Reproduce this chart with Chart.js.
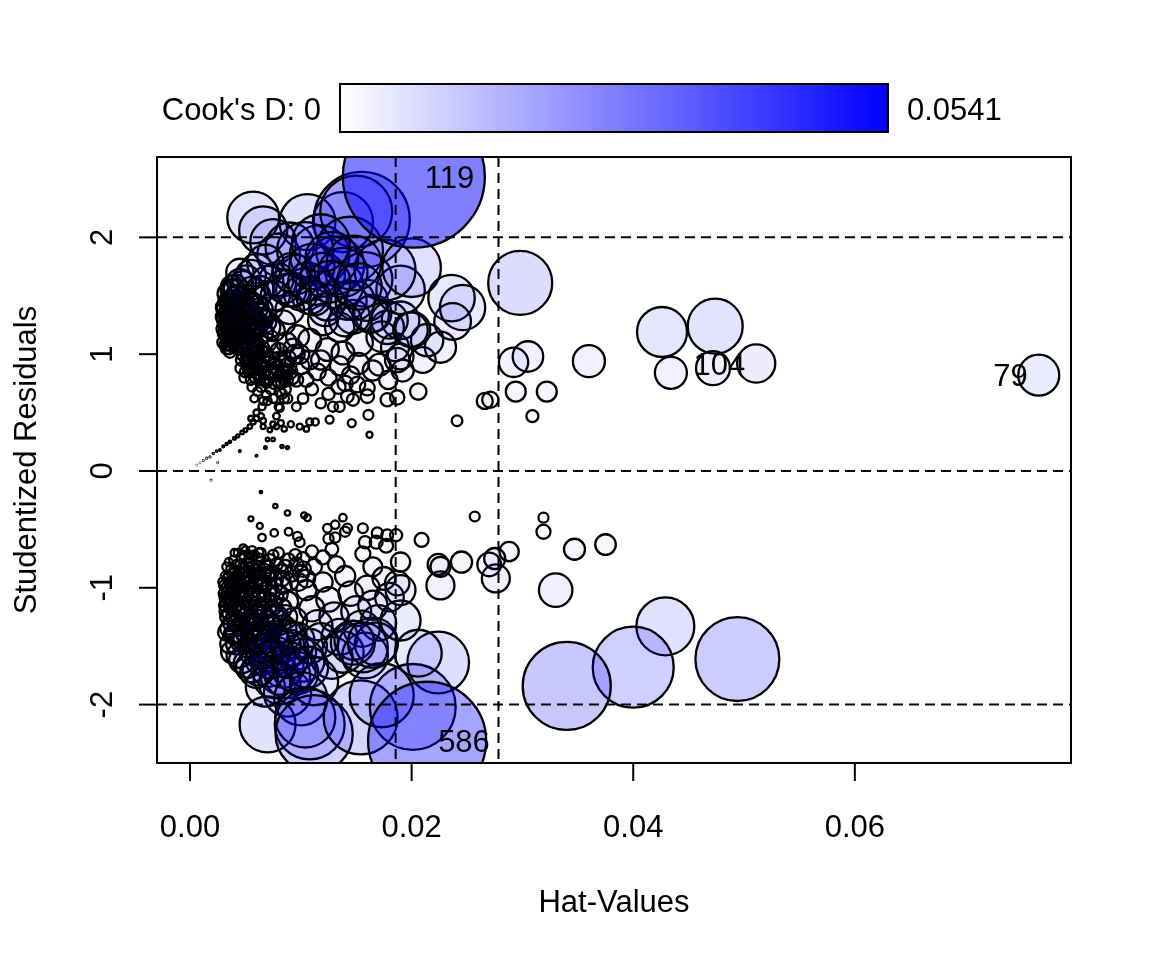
<!DOCTYPE html>
<html>
<head>
<meta charset="utf-8">
<script src="https://cdn.jsdelivr.net/npm/chart.js@4/dist/chart.umd.min.js"></script>
<style>
  html, body { margin: 0; padding: 0; background: #fff; }
  #wrap { width: 1152px; height: 960px; }
</style>
</head>
<body>
<div id="wrap"><canvas id="influence" width="1152" height="960"></canvas></div>
<script>
// --- data: [hat-value, studentized residual, Cook's D] ---
const tailPoints = [
  [0.0003, 0.03, 0.0000001], [0.0006, 0.05, 0.0000002], [0.0009, 0.07, 0.0000004], [0.0012, 0.09, 0.0000011],
  [0.0015, 0.11, 0.0000017], [0.0018, 0.12, 0.0000022], [0.0021, 0.15, 0.0000042], [0.0024, 0.17, 0.0000055],
  [0.0027, 0.18, 0.0000068], [0.0030, 0.21, 0.000010], [0.0033, 0.23, 0.000013], [0.0036, 0.25, 0.000016],
  [0.0040, 0.28, 0.000021], [0.0043, 0.30, 0.000026], [0.0047, 0.33, 0.000034], [0.0050, 0.35, 0.000040],
  [0.0054, 0.38, 0.000054], [0.0057, 0.42, 0.000070], [0.0060, 0.45, 0.000084], [0.0064, 0.47, 0.000097],
  [0.0066, 0.43, 0.000086], [0.0070, 0.27, 0.000036], [0.0083, 0.21, 0.000028], [0.0068, 0.20, 0.000020],
  [0.0060, 0.13, 0.000009], [0.0025, 0.07, 0.000001], [0.0045, 0.17, 0.000010], [0.0078, 0.38, 0.000075],
  [0.0085, 0.36, 0.000075], [0.0019, -0.08, 0.000001], [0.0064, -0.18, 0.000016]
];

const upperSmall = [
  [0.0055, 0.45, 0.000077], [0.0060, 0.50, 0.00010], [0.0065, 0.55, 0.00014], [0.0070, 0.60, 0.00018],
  [0.0075, 0.40, 0.000083], [0.0080, 0.55, 0.00017], [0.0085, 0.62, 0.00024], [0.0072, 0.35, 0.000058],
  [0.0078, 0.47, 0.00012], [0.0066, 0.38, 0.000066], [0.0082, 0.41, 0.000094], [0.0091, 0.40, 0.00010],
  [0.0099, 0.38, 0.00010], [0.0108, 0.42, 0.00013], [0.0113, 0.42, 0.00014], [0.0126, 0.44, 0.00017],
  [0.0146, 0.41, 0.00017], [0.0161, 0.48, 0.00026], [0.0162, 0.31, 0.00010], [0.0241, 0.43, 0.00031],
  [0.0075, 0.27, 0.000034], [0.0088, 0.20, 0.000026], [0.0105, 0.36, 0.00008], [0.0129, 0.55, 0.00027],
  [0.0135, 0.55, 0.00028], [0.0147, 0.61, 0.00039], [0.0160, 0.64, 0.00049], [0.0178, 0.61, 0.00047],
  [0.0187, 0.63, 0.00055], [0.0206, 0.68, 0.00072], [0.0266, 0.60, 0.00069], [0.0271, 0.61, 0.00071],
  [0.0102, 0.62, 0.00029], [0.0110, 0.70, 0.00041], [0.0118, 0.58, 0.00028], [0.0125, 0.66, 0.00040],
  [0.0134, 0.72, 0.00053], [0.0142, 0.64, 0.00043], [0.0096, 0.55, 0.00020], [0.0088, 0.62, 0.00024],
  [0.0179, 0.78, 0.00092], [0.0160, 0.71, 0.00059], [0.0151, 0.74, 0.00066]
];

const upperDense = [
  [0.0030, 1.10, 0.00038], [0.0030, 1.32, 0.0006], [0.0031, 1.40, 0.00078], [0.0032, 1.08, 0.00038],
  [0.0032, 1.20, 0.00051], [0.0033, 1.28, 0.00064], [0.0034, 1.12, 0.00045], [0.0034, 1.36, 0.00078],
  [0.0035, 1.05, 0.00039], [0.0035, 1.25, 0.00063], [0.0036, 1.16, 0.00052], [0.0036, 1.38, 0.00088],
  [0.0037, 1.08, 0.00044], [0.0037, 1.30, 0.00074], [0.0038, 1.20, 0.00061], [0.0038, 1.42, 0.001],
  [0.0039, 1.32, 0.00082], [0.0040, 1.14, 0.00056], [0.0040, 1.22, 0.00067], [0.0041, 1.35, 0.00092],
  [0.0042, 1.06, 0.00048], [0.0042, 1.28, 0.0008], [0.0043, 1.20, 0.00069], [0.0044, 1.38, 0.0011],
  [0.0045, 1.15, 0.00064], [0.0045, 1.30, 0.0009], [0.0046, 1.10, 0.00058], [0.0047, 1.25, 0.00085],
  [0.0048, 1.42, 0.0013], [0.0049, 1.18, 0.00076], [0.0050, 1.36, 0.0011], [0.0052, 1.10, 0.00065],
  [0.0053, 1.28, 0.001], [0.0055, 1.35, 0.0012], [0.0056, 1.18, 0.00087], [0.0058, 1.10, 0.00073],
  [0.0060, 1.25, 0.0011], [0.0062, 1.35, 0.0014], [0.0064, 1.05, 0.00072],
  [0.0046, 0.88, 0.00033], [0.0048, 1.00, 0.00048], [0.0051, 0.95, 0.00044], [0.0054, 0.85, 0.00035],
  [0.0056, 1.02, 0.00059], [0.0059, 0.80, 0.00032], [0.0061, 0.97, 0.00056], [0.0064, 0.88, 0.00046],
  [0.0067, 0.78, 0.00034], [0.0070, 0.95, 0.00061], [0.0073, 0.83, 0.00045], [0.0077, 0.90, 0.00058],
  [0.0080, 0.76, 0.00037], [0.0084, 0.84, 0.00052], [0.0087, 0.78, 0.00045]
];

const upperCore = [
  [0.0030, 1.22, 0.0005], [0.0031, 1.30, 0.00062], [0.0032, 1.40, 0.0008], [0.0033, 1.15, 0.00047],
  [0.0034, 1.26, 0.00063], [0.0035, 1.35, 0.00079], [0.0036, 1.45, 0.00099], [0.0037, 1.19, 0.00058],
  [0.0038, 1.29, 0.00074], [0.0039, 1.10, 0.00049], [0.0040, 1.38, 0.00096], [0.0041, 1.24, 0.00072],
  [0.0042, 1.50, 0.0013], [0.0043, 1.32, 0.0009], [0.0044, 1.15, 0.00062], [0.0045, 1.42, 0.0012],
  [0.0046, 1.22, 0.00077], [0.0047, 1.05, 0.00053], [0.0048, 1.35, 0.0011], [0.0049, 1.28, 0.00093],
  [0.0050, 1.12, 0.00066], [0.0051, 1.45, 0.0014], [0.0052, 1.20, 0.00083], [0.0053, 0.98, 0.0005],
  [0.0054, 1.33, 0.0012], [0.0055, 1.08, 0.00066], [0.0056, 1.55, 0.0019], [0.0057, 1.25, 0.001],
  [0.0058, 0.95, 0.0005], [0.0060, 1.40, 0.0015], [0.0062, 1.15, 0.00088], [0.0063, 1.02, 0.00066],
  [0.0065, 1.30, 0.0013], [0.0038, 1.58, 0.0013], [0.0045, 1.62, 0.0018],
  [0.0031, 1.18, 0.00047], [0.0032, 1.25, 0.00058], [0.0033, 1.35, 0.00074], [0.0034, 1.45, 0.00094],
  [0.0035, 1.20, 0.00056], [0.0036, 1.32, 0.00076], [0.0037, 1.40, 0.00093], [0.0038, 1.12, 0.0005],
  [0.0039, 1.24, 0.00069], [0.0040, 1.30, 0.0008], [0.0041, 1.45, 0.0011], [0.0042, 1.18, 0.00064],
  [0.0043, 1.40, 0.0011], [0.0044, 1.27, 0.00083], [0.0045, 1.08, 0.00054], [0.0046, 1.36, 0.0011],
  [0.0047, 1.48, 0.0014], [0.0048, 1.20, 0.00077], [0.0049, 1.10, 0.00061], [0.0050, 1.30, 0.001],
  [0.0051, 1.25, 0.00092], [0.0052, 1.38, 0.0012], [0.0053, 1.15, 0.00075], [0.0054, 1.05, 0.0006],
  [0.0055, 1.22, 0.00092], [0.0056, 1.42, 0.0015], [0.0057, 1.12, 0.00075], [0.0058, 1.30, 0.0012],
  [0.0059, 1.20, 0.00094], [0.0060, 1.08, 0.00072], [0.0061, 1.50, 0.0018], [0.0062, 1.26, 0.0011],
  [0.0064, 1.38, 0.0015], [0.0066, 1.18, 0.001], [0.0068, 1.28, 0.0013], [0.0070, 1.10, 0.00088],
  [0.0072, 1.40, 0.0018], [0.0074, 1.05, 0.00083], [0.0076, 1.20, 0.0012], [0.0034, 1.52, 0.0011],
  [0.0037, 1.55, 0.0012], [0.0041, 1.58, 0.0015], [0.0033, 1.05, 0.00037], [0.0036, 1.02, 0.00038],
  [0.0050, 0.85, 0.00033], [0.0052, 0.92, 0.00042], [0.0055, 0.78, 0.00028], [0.0057, 0.88, 0.0004],
  [0.0060, 0.95, 0.00052], [0.0062, 0.82, 0.00037], [0.0064, 0.72, 0.00026], [0.0066, 0.90, 0.0005],
  [0.0068, 1.00, 0.00068], [0.0070, 0.80, 0.00039], [0.0072, 0.86, 0.00048], [0.0074, 0.95, 0.00064],
  [0.0076, 0.75, 0.00034], [0.0078, 0.88, 0.00055], [0.0080, 1.02, 0.00084], [0.0082, 0.82, 0.00048],
  [0.0084, 0.92, 0.00067], [0.0086, 0.70, 0.00032], [0.0088, 0.96, 0.00079], [0.0090, 0.85, 0.00059],
  [0.0093, 1.05, 0.001], [0.0096, 0.78, 0.00049], [0.0100, 0.90, 0.00075], [0.0047, 0.95, 0.00041],
  [0.0058, 1.05, 0.00065], [0.0069, 0.65, 0.00021], [0.0075, 0.62, 0.00021], [0.0081, 0.68, 0.00028],
  [0.0087, 1.10, 0.0011], [0.0095, 1.00, 0.00095],
  [0.0049, 0.80, 0.00027], [0.0053, 0.86, 0.00036], [0.0056, 0.72, 0.00023], [0.0059, 0.90, 0.00044],
  [0.0063, 0.78, 0.00032], [0.0065, 0.95, 0.00057], [0.0067, 0.84, 0.00042], [0.0071, 0.92, 0.00057],
  [0.0073, 0.70, 0.00027], [0.0077, 0.82, 0.00045], [0.0079, 0.95, 0.00069], [0.0083, 0.76, 0.00039],
  [0.0085, 0.86, 0.00057], [0.0089, 0.90, 0.00067], [0.0092, 0.80, 0.00051], [0.0061, 0.68, 0.00021],
  [0.0058, 0.62, 0.00016], [0.0066, 0.60, 0.00017]
];

const upperMid = [
  [0.0105, 0.78, 0.00054], [0.0115, 0.85, 0.00075], [0.0125, 0.80, 0.00069], [0.0135, 0.90, 0.0010],
  [0.0145, 0.82, 0.00084], [0.0152, 0.92, 0.0012], [0.0118, 0.95, 0.0010], [0.0140, 0.75, 0.00063],
  [0.0165, 0.86, 0.0011], [0.0171, 0.91, 0.0013], [0.0187, 0.95, 0.0016], [0.0190, 0.98, 0.0018],
  [0.0210, 0.95, 0.0018], [0.0226, 1.06, 0.0026], [0.0214, 1.12, 0.0028], [0.0201, 1.21, 0.0033],
  [0.0190, 1.29, 0.0038], [0.0178, 1.23, 0.0030], [0.0192, 0.86, 0.0013], [0.0185, 1.06, 0.0021],
  [0.0173, 1.15, 0.0025], [0.0153, 1.10, 0.0019], [0.0138, 1.01, 0.0014], [0.0124, 1.04, 0.0014],
  [0.0108, 0.95, 0.00094], [0.0099, 1.00, 0.00099], [0.0097, 1.15, 0.0014], [0.0108, 1.12, 0.0014],
  [0.0135, 1.23, 0.0023], [0.0120, 1.29, 0.0024], [0.0147, 1.32, 0.0031], [0.0165, 1.35, 0.0037],
  [0.0160, 1.46, 0.0045], [0.0142, 1.46, 0.0040], [0.0124, 1.44, 0.0034], [0.0108, 1.49, 0.0032],
  [0.0090, 1.38, 0.0022], [0.0084, 1.27, 0.0016], [0.0072, 1.23, 0.0012], [0.0093, 1.55, 0.0031],
  [0.0078, 1.64, 0.0031], [0.0051, 1.64, 0.0021], [0.0042, 1.49, 0.0012], [0.0039, 1.37, 0.00092],
  [0.0036, 1.26, 0.00066], [0.0039, 1.15, 0.00055], [0.0045, 1.06, 0.00051], [0.0054, 0.95, 0.00047],
  [0.0061, 0.84, 0.00039], [0.0069, 0.76, 0.00032], [0.0083, 0.66, 0.00026], [0.0081, 0.54, 0.00017],
  [0.0236, 1.48, 0.0058], [0.0246, 1.40, 0.0055], [0.0237, 1.28, 0.0036]
];

const upperLarge = [
  [0.0057, 2.17, 0.0072], [0.0066, 2.06, 0.0062], [0.0075, 1.96, 0.0056], [0.0106, 2.13, 0.0084],
  [0.0138, 2.13, 0.0097], [0.0155, 2.15, 0.0247], [0.0150, 2.22, 0.0139], [0.0080, 1.85, 0.0049],
  [0.0090, 1.92, 0.0063], [0.0117, 1.85, 0.0095], [0.0131, 1.76, 0.0090], [0.0144, 1.89, 0.0120],
  [0.0104, 1.89, 0.0085], [0.0135, 1.59, 0.0060], [0.0158, 1.64, 0.0080], [0.0113, 1.59, 0.0041],
  [0.0095, 1.68, 0.0042], [0.0090, 1.55, 0.0030], [0.0149, 1.46, 0.0041], [0.0122, 1.38, 0.0029],
  [0.0140, 1.29, 0.0028], [0.0163, 1.34, 0.0036], [0.0180, 1.29, 0.0036], [0.0190, 1.55, 0.0063],
  [0.0199, 1.21, 0.0032], [0.0176, 1.72, 0.0100], [0.0200, 1.74, 0.0092], [0.0040, 1.55, 0.0013],
  [0.0048, 1.60, 0.0018], [0.0055, 1.68, 0.0024], [0.0063, 1.55, 0.0021], [0.0070, 1.62, 0.0027],
  [0.0077, 1.50, 0.0023], [0.0085, 1.58, 0.0030], [0.0092, 1.70, 0.0041], [0.0100, 1.52, 0.0031],
  [0.0106, 1.62, 0.0040], [0.0112, 1.48, 0.0032], [0.0060, 1.72, 0.0028], [0.0045, 1.70, 0.0020],
  [0.0068, 1.78, 0.0036], [0.0110, 1.75, 0.0055], [0.0120, 1.68, 0.0052], [0.0128, 1.82, 0.0075],
  [0.0138, 1.70, 0.0065], [0.0148, 1.78, 0.0080], [0.0118, 1.95, 0.0090], [0.0126, 1.62, 0.0047],
  [0.0152, 1.58, 0.0058]
];

const rightUpper = [
  [0.0298, 1.61, 0.0110], [0.0426, 1.19, 0.0067], [0.0474, 1.24, 0.0081], [0.0434, 0.84, 0.00275],
  [0.0472, 0.88, 0.0031], [0.0360, 0.94, 0.00275], [0.0305, 0.98, 0.0025], [0.0292, 0.93, 0.0023],
  [0.0294, 0.68, 0.00107], [0.0322, 0.68, 0.00107], [0.0309, 0.47, 0.00039]
];

const lowerSmall = [
  [0.0077, -0.30, 0.000046], [0.0088, -0.36, 0.000074], [0.0055, -0.41, 0.000063], [0.0063, -0.47, 0.000097],
  [0.0065, -0.57, 0.00015], [0.0103, -0.38, 0.00010], [0.0106, -0.40, 0.00012], [0.0138, -0.40, 0.00015],
  [0.0131, -0.46, 0.00019], [0.0142, -0.49, 0.00023], [0.0156, -0.49, 0.00026], [0.0124, -0.49, 0.00020],
  [0.0089, -0.52, 0.00016], [0.0097, -0.56, 0.00021], [0.0131, -0.57, 0.00028], [0.0169, -0.53, 0.00032],
  [0.0178, -0.55, 0.00037], [0.0186, -0.55, 0.00039], [0.0168, -0.61, 0.00045], [0.0209, -0.59, 0.00052],
  [0.0257, -0.39, 0.00026], [0.0128, -0.67, 0.00044], [0.0110, -0.69, 0.00040], [0.0156, -0.71, 0.00060],
  [0.0190, -0.78, 0.00099], [0.0224, -0.80, 0.0012], [0.0226, -0.98, 0.0021], [0.0165, -0.82, 0.00096],
  [0.0187, -0.96, 0.0016], [0.0120, -0.74, 0.00052], [0.0245, -0.78, 0.0012], [0.0076, -0.53, 0.00015],
  [0.0099, -0.61, 0.00026], [0.0125, -0.58, 0.00028], [0.0140, -0.52, 0.00027], [0.0158, -0.61, 0.00041],
  [0.0177, -0.64, 0.00052]
];

const lowerDense = [
  [0.0032, -0.90, 0.00024], [0.0033, -0.82, 0.0002], [0.0034, -1.08, 0.00041], [0.0035, -0.78, 0.00018],
  [0.0036, -0.95, 0.00031], [0.0037, -0.84, 0.00024], [0.0038, -1.10, 0.00048], [0.0039, -0.76, 0.00018],
  [0.0040, -0.92, 0.00032], [0.0041, -1.02, 0.00043], [0.0042, -0.80, 0.00023], [0.0043, -0.70, 0.00016],
  [0.0044, -0.86, 0.00029], [0.0045, -0.98, 0.00043], [0.0046, -0.74, 0.0002], [0.0047, -1.05, 0.00053],
  [0.0048, -0.82, 0.00028], [0.0049, -0.95, 0.00043], [0.0050, -0.68, 0.00017], [0.0051, -0.86, 0.00034],
  [0.0052, -1.00, 0.00052], [0.0053, -0.72, 0.00021], [0.0054, -0.90, 0.00041], [0.0055, -0.78, 0.00028],
  [0.0056, -1.05, 0.00063], [0.0057, -0.88, 0.00041], [0.0058, -0.72, 0.00023], [0.0060, -0.92, 0.00048],
  [0.0062, -0.82, 0.00037], [0.0064, -0.70, 0.00024], [0.0066, -0.95, 0.00057], [0.0068, -0.80, 0.00037],
  [0.0070, -0.90, 0.00053], [0.0072, -0.76, 0.00034], [0.0074, -0.86, 0.00048], [0.0076, -0.98, 0.00071],
  [0.0078, -0.80, 0.00043], [0.0080, -0.70, 0.0003], [0.0083, -0.92, 0.00066], [0.0086, -0.82, 0.00051],
  [0.0089, -0.76, 0.00042], [0.0092, -0.88, 0.00065], [0.0095, -0.72, 0.00039], [0.0098, -0.95, 0.00085],
  [0.0102, -0.84, 0.00064], [0.0105, -0.92, 0.00084]
];

const lowerCore = [
  [0.0030, -0.95, 0.00026], [0.0031, -1.05, 0.00035], [0.0032, -1.15, 0.00045], [0.0033, -1.00, 0.00033],
  [0.0034, -1.25, 0.00061], [0.0035, -0.90, 0.00026], [0.0036, -1.10, 0.00045], [0.0037, -1.30, 0.00074],
  [0.0038, -1.02, 0.0004], [0.0039, -1.18, 0.00059], [0.0040, -0.85, 0.00026], [0.0041, -1.40, 0.001],
  [0.0042, -0.97, 0.00039], [0.0043, -1.22, 0.00073], [0.0044, -1.08, 0.00053], [0.0045, -0.80, 0.00025],
  [0.0046, -1.33, 0.00099], [0.0047, -1.15, 0.00067], [0.0048, -0.92, 0.00038], [0.0049, -1.45, 0.0013],
  [0.0050, -1.03, 0.00054], [0.0051, -1.25, 0.00092], [0.0052, -0.78, 0.00027], [0.0053, -1.12, 0.0007],
  [0.0054, -1.50, 0.0016], [0.0055, -0.95, 0.00048], [0.0056, -1.35, 0.0013], [0.0057, -1.18, 0.00087],
  [0.0058, -0.85, 0.00038], [0.0059, -1.42, 0.0015], [0.0060, -1.05, 0.00067], [0.0061, -1.28, 0.0012],
  [0.0062, -0.75, 0.00028], [0.0063, -1.55, 0.0021], [0.0064, -0.98, 0.00061], [0.0065, -1.20, 0.001],
  [0.0066, -1.38, 0.0016], [0.0067, -0.88, 0.00048], [0.0068, -1.10, 0.00085], [0.0069, -1.48, 0.002],
  [0.0070, -0.82, 0.00041], [0.0071, -1.30, 0.0014], [0.0072, -1.00, 0.00072], [0.0073, -1.58, 0.0026],
  [0.0074, -1.15, 0.0011], [0.0075, -0.72, 0.0003], [0.0076, -1.40, 0.0019], [0.0077, -0.93, 0.00063],
  [0.0078, -1.25, 0.0014], [0.0079, -1.62, 0.0031], [0.0080, -1.05, 0.0009], [0.0082, -0.86, 0.00055],
  [0.0084, -1.35, 0.0019], [0.0086, -1.50, 0.0026], [0.0088, -1.12, 0.0012], [0.0090, -0.95, 0.00078],
  [0.0092, -1.42, 0.0024], [0.0094, -1.28, 0.0018], [0.0096, -0.80, 0.00053], [0.0098, -1.55, 0.0033],
  [0.0036, -1.48, 0.001], [0.0044, -1.58, 0.0016], [0.0052, -1.65, 0.0021], [0.0060, -1.72, 0.0028],
  [0.0040, -0.70, 0.00015], [0.0048, -0.66, 0.00015], [0.0056, -0.68, 0.00019], [0.0033, -1.12, 0.00043],
  [0.0037, -0.98, 0.00035], [0.0040, -1.25, 0.00072], [0.0043, -0.90, 0.00032], [0.0046, -1.05, 0.00051],
  [0.0049, -1.18, 0.00074], [0.0035, -1.35, 0.00079], [0.0042, -1.48, 0.0012], [0.0057, -1.45, 0.0016],
  [0.0064, -1.62, 0.0025], [0.0071, -1.70, 0.0032], [0.0081, -1.75, 0.004],
  [0.0031, -0.98, 0.00029], [0.0032, -1.08, 0.00038], [0.0033, -1.20, 0.00053], [0.0034, -0.92, 0.00027],
  [0.0035, -1.02, 0.00037], [0.0036, -1.22, 0.00061], [0.0037, -1.15, 0.00053], [0.0038, -0.88, 0.00027],
  [0.0039, -1.40, 0.00098], [0.0040, -1.05, 0.00045], [0.0041, -1.15, 0.00058], [0.0042, -1.30, 0.00084],
  [0.0043, -1.05, 0.00048], [0.0044, -0.95, 0.00038], [0.0045, -1.20, 0.00072], [0.0046, -1.45, 0.0013],
  [0.0047, -0.88, 0.00033], [0.0048, -1.08, 0.00058], [0.0049, -1.30, 0.00098], [0.0050, -1.18, 0.00076],
  [0.0051, -0.92, 0.00041], [0.0052, -1.40, 0.0013], [0.0053, -1.00, 0.00053], [0.0054, -1.28, 0.001],
  [0.0055, -1.10, 0.00069], [0.0056, -0.82, 0.00033], [0.0057, -1.55, 0.0019], [0.0058, -1.22, 0.00099],
  [0.0059, -0.95, 0.00051], [0.0060, -1.35, 0.0014], [0.0061, -1.15, 0.00087], [0.0062, -1.45, 0.0017],
  [0.0063, -0.88, 0.00045], [0.0064, -1.08, 0.00077], [0.0065, -1.52, 0.002], [0.0066, -1.25, 0.0012],
  [0.0067, -0.98, 0.00064], [0.0068, -1.42, 0.0018], [0.0069, -1.18, 0.001], [0.0070, -1.05, 0.00078],
  [0.0072, -1.35, 0.0016], [0.0073, -0.88, 0.00052], [0.0075, -1.25, 0.0014], [0.0076, -1.08, 0.00091],
  [0.0078, -1.48, 0.0023], [0.0080, -1.30, 0.0016], [0.0082, -1.18, 0.0012], [0.0084, -0.98, 0.0008],
  [0.0086, -1.25, 0.0015], [0.0088, -1.40, 0.0022], [0.0038, -1.55, 0.0013], [0.0047, -1.62, 0.0018],
  [0.0055, -1.68, 0.0024], [0.0033, -1.38, 0.00079], [0.0048, -0.72, 0.0002], [0.0054, -0.75, 0.00024],
  [0.0062, -0.70, 0.00023],
  [0.0066, -1.55, 0.0032], [0.0072, -1.62, 0.0036], [0.0078, -1.58, 0.0036], [0.0084, -1.68, 0.0045],
  [0.0090, -1.52, 0.0037], [0.0096, -1.45, 0.0035], [0.0102, -1.62, 0.0049], [0.0075, -1.45, 0.0028],
  [0.0088, -1.75, 0.0055], [0.0094, -1.70, 0.0050]
];

const lowerMid = [
  [0.0100, -0.88, 0.00071], [0.0105, -1.02, 0.0011], [0.0110, -1.18, 0.0017], [0.0115, -1.32, 0.0024],
  [0.0120, -0.95, 0.001], [0.0125, -1.10, 0.0016], [0.0130, -1.25, 0.0023], [0.0135, -1.42, 0.0035],
  [0.0140, -0.90, 0.0011], [0.0145, -1.05, 0.0016], [0.0150, -1.20, 0.0024], [0.0155, -1.35, 0.0035],
  [0.0160, -1.00, 0.0016], [0.0165, -1.15, 0.0023], [0.0170, -1.30, 0.0034], [0.0175, -0.92, 0.0014],
  [0.0180, -1.08, 0.0022], [0.0108, -1.50, 0.0032], [0.0118, -1.45, 0.0032], [0.0128, -1.60, 0.0047],
  [0.0138, -1.55, 0.0046], [0.0148, -1.45, 0.0041], [0.0158, -1.58, 0.0056], [0.0168, -1.48, 0.0049],
  [0.0102, -0.75, 0.00046], [0.0112, -0.82, 0.00066], [0.0132, -0.80, 0.00073],
  [0.0068, -1.85, 0.0041], [0.0075, -1.78, 0.004], [0.0081, -1.82, 0.0046], [0.0088, -1.90, 0.006],
  [0.0097, -1.73, 0.0047], [0.0106, -1.68, 0.0046], [0.0100, -1.95, 0.0076], [0.0112, -1.80, 0.0062],
  [0.0062, -1.70, 0.0028], [0.0090, -1.62, 0.0035]
];

const lowerLarge = [
  [0.0070, -2.17, 0.0084], [0.0108, -2.17, 0.0131], [0.0104, -2.11, 0.0097], [0.0112, -2.25, 0.0160],
  [0.0154, -2.11, 0.0147], [0.0201, -2.02, 0.0198], [0.0224, -1.64, 0.0102], [0.0206, -1.56, 0.0059],
  [0.0173, -1.92, 0.0110], [0.0156, -1.51, 0.0067], [0.0147, -1.47, 0.0052], [0.0165, -1.47, 0.0067],
  [0.0190, -1.28, 0.0043], [0.0190, -1.02, 0.0024], [0.0226, -0.82, 0.00107]
];

const rightLower = [
  [0.0275, -0.75, 0.0012], [0.0276, -0.92, 0.0021], [0.0288, -0.69, 0.0010], [0.0270, -0.80, 0.0015],
  [0.0319, -0.40, 0.00027], [0.0319, -0.52, 0.00053], [0.0347, -0.67, 0.00118], [0.0375, -0.63, 0.00114],
  [0.0330, -1.02, 0.0030], [0.0429, -1.33, 0.0090], [0.0400, -1.68, 0.0176], [0.0340, -1.84, 0.0208],
  [0.0494, -1.61, 0.0189]
];

// labelled observations: [hat, rstudent, cook, id, side]
const namedPoints = [
  [0.0511, 0.92, 0.0039, '104', 'left'],
  [0.0766, 0.82, 0.0045, '79', 'left'],
  [0.0214, -2.31, 0.0374, '586', 'right'],
  [0.0202, 2.52, 0.0541, '119', 'right']
];

const xTicks = [0, 0.02, 0.04, 0.06];
const xTickLabels = ['0.00', '0.02', '0.04', '0.06'];
const yTicks = [-2, -1, 0, 1, 2];
const yTickLabels = ['-2', '-1', '0', '1', '2'];
const hatCutoffs = [0.01856, 0.02784];
const residCutoffs = [-2, 0, 2];
const cookMax = 0.0541;

// --- styling ---
const FONT = '"Liberation Sans", Arial, sans-serif';
const R_MAX = 71;

function radiusFor(cook) {
  return R_MAX * Math.sqrt(cook / cookMax);
}

// blue with opacity growing with Cook's D (half opaque at the maximum)
function fillFor(cook) {
  const q = cook / cookMax;
  const t = Math.min(1, Math.sqrt(q) * (0.5 + 0.5 * q));
  return `rgba(0,0,255,${(0.5 * t).toFixed(3)})`;
}

const allPoints = [].concat(tailPoints, upperSmall, lowerSmall, upperDense, lowerDense, upperCore, lowerCore,
  upperMid, lowerMid, upperLarge, lowerLarge, rightUpper, rightLower, namedPoints);

const bubbleData = allPoints.map(p => ({ x: p[0], y: p[1], r: radiusFor(p[2]), cook: p[2] }));

const rStylePlot = {
  id: 'rStylePlot',
  afterDatasetsDraw(chart) {
    const { ctx, chartArea: a, scales: { x, y } } = chart;

    // dashed reference lines
    ctx.save();
    ctx.beginPath();
    ctx.rect(a.left, a.top, a.right - a.left, a.bottom - a.top);
    ctx.clip();
    ctx.setLineDash([10, 6]);
    ctx.lineWidth = 2;
    ctx.strokeStyle = '#000';
    hatCutoffs.forEach(v => {
      const px = x.getPixelForValue(v);
      ctx.beginPath(); ctx.moveTo(px, a.top); ctx.lineTo(px, a.bottom); ctx.stroke();
    });
    residCutoffs.forEach(v => {
      const py = y.getPixelForValue(v);
      ctx.beginPath(); ctx.moveTo(a.left, py); ctx.lineTo(a.right, py); ctx.stroke();
    });
    ctx.restore();

    ctx.save();
    ctx.fillStyle = '#000';
    ctx.font = `31px ${FONT}`;
    ctx.textBaseline = 'alphabetic';

    // point labels
    namedPoints.forEach(p => {
      const px = x.getPixelForValue(p[0]);
      const py = y.getPixelForValue(p[1]);
      ctx.textAlign = p[4] === 'left' ? 'right' : 'left';
      ctx.fillText(p[3], p[4] === 'left' ? px - 11 : px + 11, py + 11);
    });

    // box + ticks
    ctx.strokeStyle = '#000';
    ctx.lineWidth = 2;
    ctx.strokeRect(a.left, a.top, a.right - a.left, a.bottom - a.top);

    ctx.textAlign = 'center';
    xTicks.forEach((v, i) => {
      const px = x.getPixelForValue(v);
      ctx.beginPath(); ctx.moveTo(px, a.bottom); ctx.lineTo(px, a.bottom + 18); ctx.stroke();
      ctx.fillText(xTickLabels[i], px, 837);
    });
    yTicks.forEach((v, i) => {
      const py = y.getPixelForValue(v);
      ctx.beginPath(); ctx.moveTo(a.left - 18, py); ctx.lineTo(a.left, py); ctx.stroke();
      ctx.save();
      ctx.translate(112, py);
      ctx.rotate(-Math.PI / 2);
      ctx.fillText(yTickLabels[i], 0, 0);
      ctx.restore();
    });

    // axis titles
    ctx.fillText('Hat-Values', (a.left + a.right) / 2, 912);
    ctx.save();
    ctx.translate(36, (a.top + a.bottom) / 2);
    ctx.rotate(-Math.PI / 2);
    ctx.fillText('Studentized Residuals', 0, 0);
    ctx.restore();

    // Cook's D colour bar
    const barL = 340, barR = 888, barT = 84, barB = 132;
    const grad = ctx.createLinearGradient(barL, 0, barR, 0);
    grad.addColorStop(0, '#ffffff');
    grad.addColorStop(1, '#0000ff');
    ctx.fillStyle = grad;
    ctx.fillRect(barL, barT, barR - barL, barB - barT);
    ctx.strokeRect(barL, barT, barR - barL, barB - barT);
    ctx.fillStyle = '#000';
    ctx.textAlign = 'right';
    ctx.fillText("Cook's D: 0", 321, 120);
    ctx.textAlign = 'left';
    ctx.fillText(String(cookMax), 907, 120);
    ctx.restore();
  }
};

new Chart(document.getElementById('influence'), {
  type: 'bubble',
  data: {
    datasets: [{
      data: bubbleData,
      backgroundColor: c => fillFor(c.raw ? c.raw.cook : 0),
      borderColor: '#000',
      borderWidth: 2.3,
      clip: 0
    }]
  },
  options: {
    responsive: false,
    animation: false,
    events: [],
    layout: { padding: { left: 157, top: 157, right: 81, bottom: 197 } },
    plugins: { legend: { display: false }, tooltip: { enabled: false } },
    scales: {
      x: { type: 'linear', min: -0.00298, max: 0.07951, display: false },
      y: { type: 'linear', min: -2.5, max: 2.688, display: false }
    }
  },
  plugins: [rStylePlot]
});
</script>
</body>
</html>
